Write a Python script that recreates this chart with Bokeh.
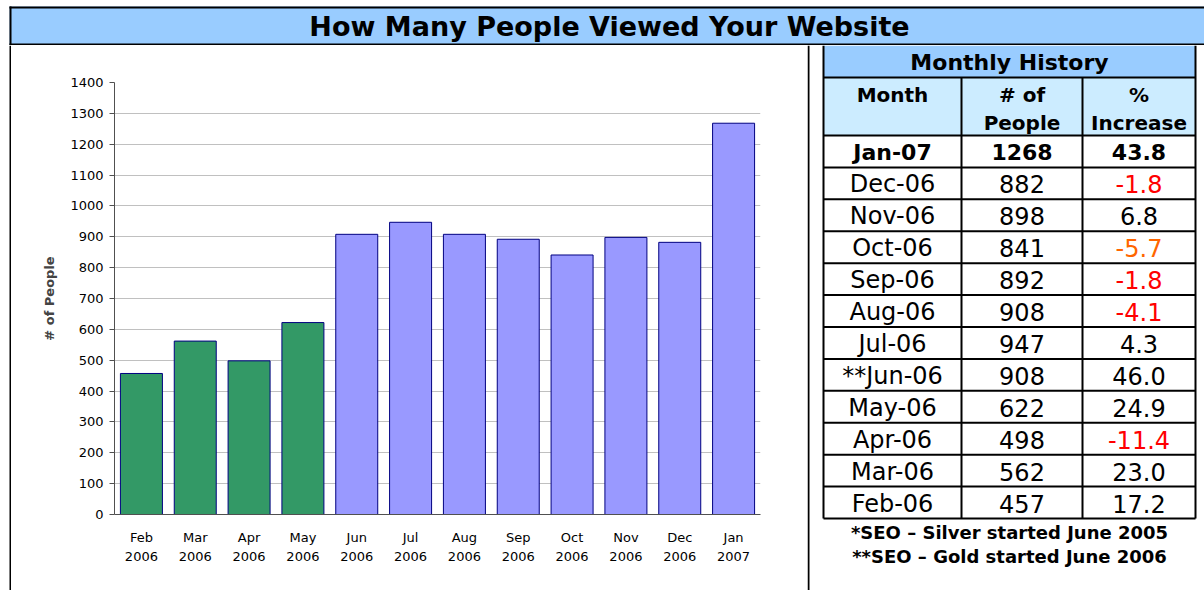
from bokeh.plotting import figure
from bokeh.layouts import column, row
from bokeh.models import Range1d, LinearAxis, FixedTicker, SingleIntervalTicker, ColumnDataSource
from bokeh.transform import factor_cmap
from bokeh.core.properties import value
from bokeh.embed import file_html
from bokeh.resources import INLINE

# ---------------- data ----------------
title_text = "How Many People Viewed Your Website"
months = ["Feb", "Mar", "Apr", "May", "Jun", "Jul", "Aug", "Sep", "Oct", "Nov", "Dec", "Jan"]
years = ["2006", "2006", "2006", "2006", "2006", "2006", "2006", "2006", "2006", "2006", "2006", "2007"]
people = [457, 562, 498, 622, 908, 947, 908, 892, 841, 898, 882, 1268]
seo_level = ["Silver", "Silver", "Silver", "Silver", "Gold", "Gold", "Gold", "Gold", "Gold", "Gold", "Gold", "Gold"]
y_label = "# of People"

table_title = "Monthly History"
table_headers = [["Month"], ["# of", "People"], ["%", "Increase"]]
table_months = ["Jan-07", "Dec-06", "Nov-06", "Oct-06", "Sep-06", "Aug-06", "Jul-06",
                "**Jun-06", "May-06", "Apr-06", "Mar-06", "Feb-06"]
table_people = list(reversed(people))
pct_increase = [43.8, -1.8, 6.8, -5.7, -1.8, -4.1, 4.3, 46.0, 24.9, -11.4, 23.0, 17.2]
pct_colors = ["black", "#FF0000", "black", "#FF6600", "#FF0000", "#FF0000", "black",
              "black", "black", "#FF0000", "black", "black"]
footnotes = ["*SEO \u2013 Silver started June 2005", "**SEO \u2013 Gold started June 2006"]

FONT_NAME = "DejaVu Sans"
FONT = value(FONT_NAME)
PAGE_W = 1204
TITLE_H = 45
LOW_H = 545


def blank(width, height, xr, yr, bg="white"):
    f = figure(width=width, height=height, x_range=xr, y_range=yr, output_backend="svg",
               toolbar_location=None, x_axis_location=None, y_axis_location=None,
               min_border=0, min_border_left=0, min_border_right=0,
               min_border_top=0, min_border_bottom=0, frame_align=False)
    f.grid.visible = False
    f.outline_line_color = None
    f.background_fill_color = bg
    f.border_fill_color = bg
    return f


# ---------------- title bar ----------------
t = blank(PAGE_W, TITLE_H, Range1d(0, PAGE_W), Range1d(TITLE_H, 0))
t.quad(left=[9], right=[PAGE_W], top=[6], bottom=[45], fill_color="#99CCFF", line_color=None)
t.quad(left=[9], right=[PAGE_W], top=[6], bottom=[8], fill_color="black", line_color=None)
t.quad(left=[9], right=[PAGE_W], top=[43], bottom=[45], fill_color="black", line_color=None)
t.quad(left=[9], right=[11], top=[6], bottom=[45], fill_color="black", line_color=None)
t.text(x=[609], y=[26], text=[title_text], text_font=FONT, text_font_size="27px",
       text_font_style="bold", text_align="center", text_baseline="middle", text_color="black")

# ---------------- left border strip ----------------
strip = blank(11, LOW_H, Range1d(0, 11), Range1d(0, 1))
strip.quad(left=[9], right=[11], top=[1], bottom=[0], fill_color="black", line_color=None)

# ---------------- bar chart ----------------
idx = list(range(len(months)))
src = ColumnDataSource(dict(x=idx, people=people, seo=seo_level))
chart = figure(width=796, height=LOW_H, x_range=Range1d(-0.5, len(months) - 0.5),
               y_range=Range1d(0, 1400), output_backend="svg", toolbar_location=None,
               x_axis_location=None, frame_align=False,
               min_border_left=103, min_border_right=47, min_border_top=37, min_border_bottom=76)
chart.outline_line_color = None
chart.background_fill_color = "white"
chart.border_fill_color = "white"
chart.vbar(x="x", top="people", width=0.78, source=src,
           fill_color=factor_cmap("seo", ["#339966", "#9999FF"], ["Silver", "Gold"]),
           line_color="#000080", line_width=1)

chart.xgrid.grid_line_color = None
chart.ygrid.grid_line_color = "#C0C0C0"
chart.ygrid.grid_line_width = 1

ya = chart.yaxis[0]
ya.ticker = SingleIntervalTicker(interval=100, num_minor_ticks=0)
ya.axis_line_color = "#505050"
ya.major_tick_line_color = "#505050"
ya.major_tick_out = 5
ya.major_tick_in = 0
ya.minor_tick_line_color = None
ya.major_label_standoff = 6
ya.major_label_text_font = FONT_NAME
ya.major_label_text_font_size = "13px"
ya.major_label_text_color = "black"
ya.axis_label = y_label
ya.axis_label_text_font = FONT_NAME
ya.axis_label_text_font_size = "13px"
ya.axis_label_text_font_style = "bold"
ya.axis_label_standoff = 10


def x_axis(labels, line_color, standoff):
    ax = LinearAxis(ticker=FixedTicker(ticks=idx, minor_ticks=[]))
    ax.axis_line_color = line_color
    ax.major_tick_line_color = None
    ax.minor_tick_line_color = None
    ax.major_tick_out = 0
    ax.major_tick_in = 0
    ax.minor_tick_out = 0
    ax.major_label_standoff = standoff
    ax.major_label_overrides = {i: s for i, s in zip(idx, labels)}
    ax.major_label_text_font = FONT_NAME
    ax.major_label_text_font_size = "13px"
    ax.major_label_text_color = "black"
    return ax


chart.add_layout(x_axis(months, "#505050", 15), "below")
chart.add_layout(x_axis(years, None, 4), "below")

# ---------------- table ----------------
X0 = 807
TW = PAGE_W - X0
tb = blank(TW, LOW_H, Range1d(X0, X0 + TW), Range1d(TITLE_H + LOW_H, TITLE_H))
tb.quad(left=[807], right=[809], top=[45], bottom=[590], fill_color="black", line_color=None)

L, C1, C2, R = 823, 961, 1082, 1195
T_TOP, H1, H2 = 45, 77, 135
n = len(table_months)
row_h = (518 - H2) / n
tb.quad(left=[L], right=[R], top=[T_TOP], bottom=[H1], fill_color="#99CCFF", line_color=None)
tb.quad(left=[L], right=[R], top=[H1], bottom=[H2], fill_color="#CCECFF", line_color=None)

ys = [H1, H2] + [H2 + row_h * (i + 1) for i in range(n)]
tb.segment(x0=[L] * len(ys), y0=ys, x1=[R] * len(ys), y1=ys, line_color="black", line_width=2)
tb.segment(x0=[L, R], y0=[T_TOP, T_TOP], x1=[L, R], y1=[ys[-1], ys[-1]], line_color="black", line_width=2)
tb.segment(x0=[C1, C2], y0=[H1, H1], x1=[C1, C2], y1=[ys[-1], ys[-1]], line_color="black", line_width=2)

cx = [(L + C1) / 2, (C1 + C2) / 2, (C2 + R) / 2]
tb.text(x=[(L + R) / 2], y=[62], text=[table_title], text_font=FONT, text_font_size="22px",
        text_font_style="bold", text_align="center", text_baseline="middle")
hx, hy, ht = [], [], []
for j, lines in enumerate(table_headers):
    for k, s in enumerate(lines):
        hx.append(cx[j]); hy.append(94 + 28 * k); ht.append(s)
tb.text(x=hx, y=hy, text=ht, text_font=FONT, text_font_size="20px", text_font_style="bold",
        text_align="center", text_baseline="middle")

row_y = [H2 + row_h * (i + 0.5) + 1 for i in range(n)]
pct_text = [f"{v:.1f}" for v in pct_increase]
first = ColumnDataSource(dict(y=row_y[:1], month=table_months[:1], ppl=[str(table_people[0])],
                              pct=pct_text[:1], pcol=pct_colors[:1]))
others = ColumnDataSource(dict(y=row_y[1:], month=table_months[1:], ppl=[str(v) for v in table_people[1:]],
                               pct=pct_text[1:], pcol=pct_colors[1:]))
for s, style, size in ((first, "bold", "22px"), (others, "normal", "24px")):
    tb.text(x=cx[0], y="y", text="month", source=s, text_font=FONT, text_font_size=size,
            text_font_style=style, text_align="center", text_baseline="middle", text_color="black")
    tb.text(x=cx[1], y="y", text="ppl", source=s, text_font=FONT, text_font_size=size,
            text_font_style=style, text_align="center", text_baseline="middle", text_color="black")
    tb.text(x=cx[2], y="y", text="pct", source=s, text_font=FONT, text_font_size=size,
            text_font_style=style, text_align="center", text_baseline="middle", text_color="pcol")

tb.text(x=[(L + R) / 2] * 2, y=[532, 556], text=footnotes, text_font=FONT, text_font_size="18px",
        text_font_style="bold", text_align="center", text_baseline="middle", text_color="black")

layout = column(t, row(strip, chart, tb, spacing=0), spacing=0)
open("out.html", "w").write(file_html(layout, INLINE))
